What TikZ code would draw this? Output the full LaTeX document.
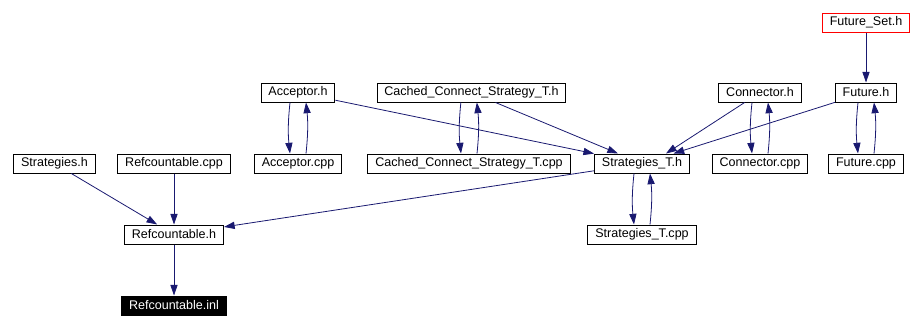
\documentclass[tikz,border=0pt]{standalone}
\usepackage{fontspec}
\setmainfont{Liberation Sans}
\usetikzlibrary{arrows.meta,positioning}
\definecolor{depblue}{RGB}{25,25,112}

\begin{document}
\begin{tikzpicture}[
  x=0.75pt,y=-0.75pt,
  font=\fontsize{9.4}{11}\selectfont,
  node distance=38.25pt,
  file/.style={draw,line width=.75pt,inner xsep=5.5pt,inner ysep=0pt,minimum height=14.25pt},
  root/.style={file,draw=red},
  cur/.style={file,fill=black,text=white},
  dep/.style={-{Triangle[length=8pt,width=5.4pt]},line width=.6pt,color=depblue}
]
\useasboundingbox (0,0) rectangle (921,326);
\node[file] (strath) at (54.5,163.5) {Strategies.h};
\node[file] (refcpp) at (174,163.5) {Refcountable.cpp};
\node[file,below=of refcpp] (refh) {Refcountable.h};
\node[cur,below=of refh] (refinl) {Refcountable.inl};
\node[file] (acccpp) at (298,163.5) {Acceptor.cpp};
\node[file,above=of acccpp] (acch) {Acceptor.h};
\node[file] (cachedcpp) at (469,163.5) {Cached\_Connect\_Strategy\_T.cpp};
\node[file,above=of cachedcpp,xshift=1.9pt] (cachedh) {Cached\_Connect\_Strategy\_T.h};
\node[file] (stratth) at (642,163.5) {Strategies\_T.h};
\node[file,below=of stratth] (strattcpp) {Strategies\_T.cpp};
\node[file] (conncpp) at (760,163.5) {Connector.cpp};
\node[file,above=of conncpp] (connh) {Connector.h};
\node[file] (futcpp) at (866,163.5) {Future.cpp};
\node[file,above=of futcpp] (futh) {Future.h};
\node[root,above=37.5pt of futh] (futseth) {Future\_Set.h};

\draw[dep] (futseth) -- (futh);
\draw[dep] ([xshift=-6pt]futh.south) to[bend right=6] ([xshift=-6pt]futcpp.north);
\draw[dep] ([xshift=6pt]futcpp.north) to[bend right=6] ([xshift=6pt]futh.south);
\draw[dep] ([xshift=-6pt]connh.south) to[bend right=6] ([xshift=-6pt]conncpp.north);
\draw[dep] ([xshift=6pt]conncpp.north) to[bend right=6] ([xshift=6pt]connh.south);
\draw[dep] ([xshift=-6pt]acch.south) to[bend right=6] ([xshift=-6pt]acccpp.north);
\draw[dep] ([xshift=6pt]acccpp.north) to[bend right=6] ([xshift=6pt]acch.south);
\draw[dep] ([xshift=-8pt]cachedh.south) to[bend right=6] ([xshift=-6pt]cachedcpp.north);
\draw[dep] ([xshift=6pt]cachedcpp.north) to[bend right=6] ([xshift=4pt]cachedh.south);
\draw[dep] ([xshift=-6pt]stratth.south) to[bend right=6] ([xshift=-6pt]strattcpp.north);
\draw[dep] ([xshift=6pt]strattcpp.north) to[bend right=6] ([xshift=6pt]stratth.south);
\draw[dep] (futh) -- (stratth);
\draw[dep] (connh) -- ([xshift=18pt]stratth.north);
\draw[dep] (acch) -- (stratth);
\draw[dep] (cachedh) -- (stratth);
\draw[dep] (stratth) -- (refh);
\draw[dep] (strath) -- (refh);
\draw[dep] (refcpp) -- (refh);
\draw[dep] (refh) -- (refinl);
\end{tikzpicture}
\end{document}
